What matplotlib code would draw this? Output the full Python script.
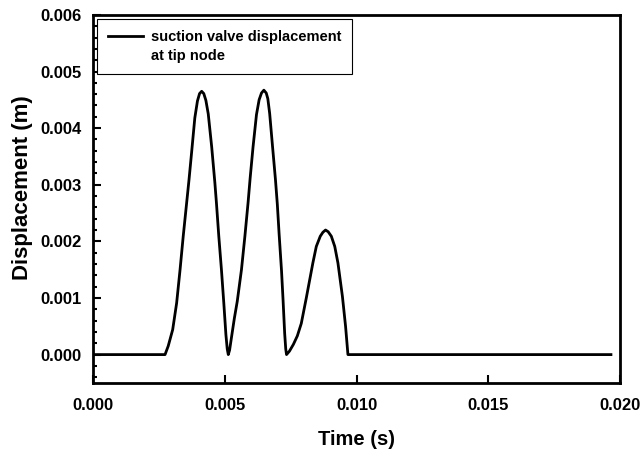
import matplotlib
matplotlib.use("Agg")
import matplotlib.pyplot as plt
from matplotlib.lines import Line2D
from matplotlib.ticker import MultipleLocator, FormatStrFormatter

# suction valve tip displacement
time_s = [0.0, 0.00273, 0.00285, 0.00302, 0.00317, 0.00330, 0.00342, 0.00355,
          0.00364, 0.00374, 0.00386, 0.00396, 0.00404, 0.00412, 0.00420,
          0.00428, 0.00437, 0.00450, 0.00462, 0.00468, 0.00477, 0.00487,
          0.00496, 0.00504, 0.00509, 0.00513, 0.00518, 0.00525, 0.00536,
          0.00547, 0.00563, 0.00576, 0.00588, 0.00596, 0.00607, 0.00620,
          0.00630, 0.00639, 0.00648, 0.00657, 0.00663, 0.00670, 0.00681,
          0.00692, 0.00699, 0.00706, 0.00715, 0.00721, 0.00727, 0.00731,
          0.00734, 0.00745, 0.00760, 0.00775, 0.00790, 0.00809,
          0.00834, 0.00847, 0.00862, 0.00872, 0.00882, 0.00892, 0.00904,
          0.00917, 0.00929, 0.00946, 0.00958, 0.00967, 0.01965]
disp_m = [0.0, 0.0, 0.00015, 0.00044, 0.00091, 0.00150, 0.00209, 0.00268,
          0.00309, 0.00358, 0.00418, 0.00448, 0.00461, 0.00465, 0.00461,
          0.00449, 0.00425, 0.00367, 0.00304, 0.00268, 0.00209, 0.00150,
          0.00091, 0.00035, 0.00010, 0.0, 0.00008, 0.00030, 0.00064,
          0.00094, 0.00150, 0.00209, 0.00268, 0.00312, 0.00367, 0.00424,
          0.00450, 0.00462, 0.00467, 0.00462, 0.00452, 0.00426, 0.00367,
          0.00309, 0.00266, 0.00212, 0.00148, 0.00095, 0.00037, 0.00010,
          0.0, 0.00006, 0.00018, 0.00033, 0.00055, 0.00100,
          0.00162, 0.00191, 0.00209, 0.00216, 0.00220, 0.00217, 0.00209,
          0.00191, 0.00162, 0.00103, 0.00050, 0.0, 0.0]

x_ticks = [0.000, 0.005, 0.010, 0.015, 0.020]
y_ticks = [0.000, 0.001, 0.002, 0.003, 0.004, 0.005, 0.006]

plt.rcParams["font.family"] = "Liberation Sans"
plt.rcParams["font.weight"] = "bold"

fig = plt.figure(figsize=(6.42, 4.51), dpi=100)
ax = fig.add_axes([0.145, 0.151, 0.821, 0.816])

ax.plot(time_s, disp_m, color="black", linewidth=2.0)

ax.set_xlim(0.0, 0.020)
ax.set_ylim(-0.0005, 0.006)
ax.set_xticks(x_ticks)
ax.set_yticks(y_ticks)
ax.yaxis.set_minor_locator(MultipleLocator(0.0002))
ax.xaxis.set_major_formatter(FormatStrFormatter("%.3f"))
ax.yaxis.set_major_formatter(FormatStrFormatter("%.3f"))
ax.tick_params(which="both", direction="in", top=False, right=False,
               labelsize=12, width=1.5)
ax.tick_params(axis="x", pad=11)
ax.tick_params(axis="y", pad=8)
ax.tick_params(which="major", length=6)
ax.tick_params(which="minor", length=3)
for s in ax.spines.values():
    s.set_linewidth(2.0)

ax.set_xlabel("Time (s)", fontsize=14.5, fontweight="bold", labelpad=12)
ax.set_ylabel("Displacement (m)", fontsize=16, fontweight="bold")
ax.yaxis.set_label_coords(-0.114, 0.53)

# legend: handle sits on the first line of the two-line label
handles = [Line2D([], [], color="black", linewidth=2.0),
           Line2D([], [], color="none")]
labels = ["suction valve displacement", "at tip node"]
leg = ax.legend(handles, labels, loc="upper left",
                bbox_to_anchor=(0.0076, 0.989),
                borderaxespad=0, fancybox=False, framealpha=1,
                edgecolor="black", fontsize=10.5, handlelength=2.4,
                handletextpad=0.55, borderpad=0.75, labelspacing=0.35)
leg.get_frame().set_linewidth(0.8)

fig.savefig("out.png", dpi=100)
